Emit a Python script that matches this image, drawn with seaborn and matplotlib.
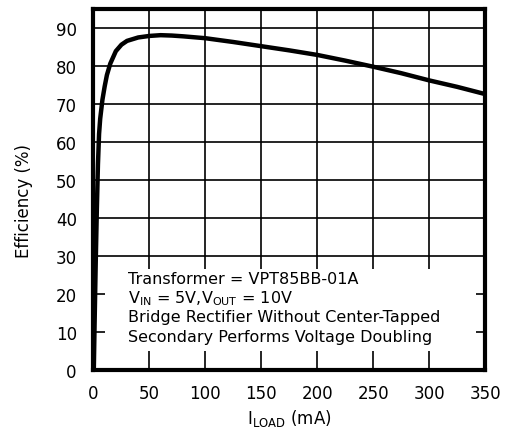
import numpy as np
import pandas as pd
import matplotlib
matplotlib.use('Agg')
import matplotlib.pyplot as plt
from matplotlib.patches import Rectangle
import seaborn as sns

# efficiency vs load current
load_ma = [0.3, 1, 2, 3, 4, 5, 6, 8, 10, 12, 15, 20, 25, 30, 40, 50, 60, 70, 80,
           100, 125, 150, 175, 200, 225, 250, 275, 300, 325, 350]
eff_pct = [0, 12, 28, 42, 54, 62, 66, 71, 74.5, 77.5, 80.5, 83.8, 85.5, 86.5, 87.4,
           87.8, 88.0, 87.9, 87.7, 87.2, 86.2, 85.1, 84.0, 82.8, 81.3, 79.7, 78.0,
           76.1, 74.4, 72.5]
xticks = [0, 50, 100, 150, 200, 250, 300, 350]
yticks = [0, 10, 20, 30, 40, 50, 60, 70, 80, 90]
notes = ['Transformer = VPT85BB-01A',
         r'V$_{\mathregular{IN}}$ = 5V,V$_{\mathregular{OUT}}$ = 10V',
         'Bridge Rectifier Without Center-Tapped',
         'Secondary Performs Voltage Doubling']

df = pd.DataFrame({'load': load_ma, 'eff': eff_pct})

sns.set_style('white')
plt.rcParams['font.family'] = ['DejaVu Sans']
plt.rcParams['mathtext.default'] = 'regular'
plt.rcParams['text.color'] = 'black'
plt.rcParams['axes.labelcolor'] = 'black'

fig = plt.figure(figsize=(5.08, 4.35), dpi=100)
ax = fig.add_axes([0.184, 0.148, 0.771, 0.830])

ax.set_axisbelow(True)
ax.grid(True, color='black', linewidth=1.2)

# white box behind the notes hides the grid
ax.add_patch(Rectangle((10.5, 4.8), 331, 21.7, facecolor='white',
                       edgecolor='none', zorder=1))

sns.lineplot(data=df, x='load', y='eff', color='black', linewidth=3.2,
             ax=ax, zorder=3)

ys = [22.9, 17.6, 12.8, 7.6]
for t, y in zip(notes, ys):
    ax.text(30.5, y, t, fontsize=11.5, va='baseline', ha='left', zorder=4,
            color='black')

ax.set_xlim(0, 350)
ax.set_ylim(0, 95)
ax.set_xticks(xticks)
ax.set_yticks(yticks)
ax.tick_params(length=0, labelsize=12, colors='black')
ax.tick_params(axis='x', pad=10)
ax.tick_params(axis='y', pad=12)
for s in ax.spines.values():
    s.set_linewidth(3)
    s.set_color('black')

ax.set_xlabel(r'I$_{\mathregular{LOAD}}$ (mA)', fontsize=12, labelpad=4)
ax.set_ylabel('Efficiency (%)', fontsize=12)
ax.yaxis.set_label_coords(-0.155, 0.47)

fig.savefig('out.png', dpi=100)
